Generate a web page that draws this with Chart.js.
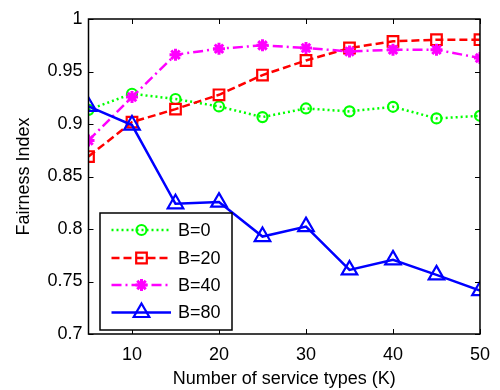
<!DOCTYPE html>
<html>
<head>
<meta charset="utf-8">
<style>
  html, body { margin: 0; padding: 0; background: #ffffff; }
  #wrap { width: 500px; height: 390px; position: relative; }
</style>
<script src="https://cdn.jsdelivr.net/npm/chart.js@4.4.1/dist/chart.umd.min.js"></script>
</head>
<body>
<div id="wrap"><canvas id="c" width="500" height="390"></canvas></div>
<script>
const kValues = [5, 10, 15, 20, 25, 30, 35, 40, 45, 50];
const seriesNames = ['B=0', 'B=20', 'B=40', 'B=80'];
const b0Values  = [0.9135, 0.9288, 0.9238, 0.9167, 0.9066, 0.9148, 0.9120, 0.9164, 0.9053, 0.9078];
const b20Values = [0.8690, 0.9018, 0.9142, 0.9278, 0.9466, 0.9605, 0.9724, 0.9787, 0.9803, 0.9803];
const b40Values = [0.8843, 0.9257, 0.9660, 0.9717, 0.9749, 0.9724, 0.9691, 0.9707, 0.9707, 0.9628];
const b80Values = [0.9167, 0.8990, 0.8240, 0.8256, 0.7928, 0.8023, 0.7610, 0.7706, 0.7563, 0.7413];
const xTickValues = [10, 20, 30, 40, 50];
const yTickValues = [0.7, 0.75, 0.8, 0.85, 0.9, 0.95, 1];
const xTitle = 'Number of service types (K)';
const yTitle = 'Fairness Index';

const FONT = "'Liberation Sans', Arial, sans-serif";

function pts(vals) { return kValues.map((k, i) => ({ x: k, y: vals[i] })); }

const styles = [
  { color: '#00ff00', dash: [2, 3], pointStyle: 'circle', radius: 5, fill: 'rgba(0,0,0,0)', pbw: 2.2 },
  { color: '#ff0000', dash: [8, 4], pointStyle: 'rect', radius: 7.5, fill: 'rgba(0,0,0,0)', pbw: 2.2 },
  { color: '#ff00ff', dash: [10, 4, 2, 4], pointStyle: 'star', radius: 6, fill: '#ff00ff', pbw: 3 },
  { color: '#0000ff', dash: [], pointStyle: 'triangle', radius: 9, fill: 'rgba(0,0,0,0)', pbw: 2.2 }
];
const allVals = [b0Values, b20Values, b40Values, b80Values];

const datasets = seriesNames.map((name, i) => ({
  label: name,
  data: pts(allVals[i]),
  borderColor: styles[i].color,
  backgroundColor: styles[i].color,
  borderWidth: 2.5,
  borderDash: styles[i].dash,
  borderCapStyle: 'butt',
  pointStyle: styles[i].pointStyle,
  pointRadius: styles[i].radius,
  pointHoverRadius: styles[i].radius,
  pointBorderColor: styles[i].color,
  pointBackgroundColor: styles[i].fill,
  pointBorderWidth: styles[i].pbw,
  tension: 0,
  order: 4 - i
}));

const boxPlugin = {
  id: 'boxPlugin',
  afterDatasetsDraw(chart) {
    const ctx = chart.ctx;
    const a = chart.chartArea;
    const xs = chart.scales.x, ys = chart.scales.y;
    ctx.save();
    ctx.strokeStyle = '#000';
    ctx.lineWidth = 1.5;
    ctx.setLineDash([]);
    ctx.strokeRect(a.left, a.top, a.right - a.left, a.bottom - a.top);
    ctx.lineWidth = 1;
    const tl = 5;
    xTickValues.forEach(v => {
      const px = Math.round(xs.getPixelForValue(v)) + 0.5;
      ctx.beginPath();
      ctx.moveTo(px, a.bottom); ctx.lineTo(px, a.bottom - tl);
      ctx.moveTo(px, a.top); ctx.lineTo(px, a.top + tl);
      ctx.stroke();
    });
    yTickValues.forEach(v => {
      const py = Math.round(ys.getPixelForValue(v)) + 0.5;
      ctx.beginPath();
      ctx.moveTo(a.left, py); ctx.lineTo(a.left + tl, py);
      ctx.moveTo(a.right, py); ctx.lineTo(a.right - tl, py);
      ctx.stroke();
    });
    ctx.restore();
  },
  afterDraw(chart) {
    const ctx = chart.ctx;
    const a = chart.chartArea;
    const bx = a.left + 11.5, by = 213, bw = 132, bh = 117;
    ctx.save();
    ctx.fillStyle = '#fff';
    ctx.fillRect(bx, by, bw, bh);
    ctx.strokeStyle = '#000';
    ctx.lineWidth = 1.5;
    ctx.setLineDash([]);
    ctx.strokeRect(bx, by, bw, bh);
    const rowY = [230, 258, 285, 312.5];
    chart.data.datasets.forEach((ds, i) => {
      const y = rowY[i];
      ctx.save();
      ctx.strokeStyle = ds.borderColor;
      ctx.lineWidth = ds.borderWidth;
      ctx.setLineDash(ds.borderDash);
      ctx.lineCap = 'butt';
      ctx.beginPath();
      ctx.moveTo(bx + 11.5, y); ctx.lineTo(bx + 71, y);
      ctx.stroke();
      ctx.restore();
      ctx.save();
      ctx.setLineDash([]);
      ctx.strokeStyle = ds.pointBorderColor;
      ctx.fillStyle = ds.pointBackgroundColor;
      ctx.lineWidth = ds.pointBorderWidth;
      if (Chart.helpers && Chart.helpers.drawPoint) {
        Chart.helpers.drawPoint(ctx, { pointStyle: ds.pointStyle, radius: ds.pointRadius, rotation: 0, borderWidth: ds.pointBorderWidth }, bx + 41.5, y);
      }
      ctx.restore();
      ctx.fillStyle = '#000';
      ctx.font = '18px ' + FONT;
      ctx.textBaseline = 'middle';
      ctx.textAlign = 'left';
      ctx.fillText(ds.label, bx + 78, y + 1);
    });
    ctx.restore();
  }
};

new Chart(document.getElementById('c'), {
  type: 'line',
  data: { datasets },
  options: {
    responsive: false,
    animation: false,
    devicePixelRatio: 1,
    layout: { padding: { left: 0, right: 11, top: 19, bottom: 0 } },
    plugins: { legend: { display: false }, tooltip: { enabled: false } },
    scales: {
      x: {
        type: 'linear',
        min: 5, max: 50,
        afterBuildTicks: s => { s.ticks = xTickValues.map(v => ({ value: v })); },
        afterFit: s => { s.height = 56; },
        grid: { display: false, drawTicks: false },
        border: { display: false },
        ticks: { color: '#000', font: { family: FONT, size: 18 }, padding: 10, maxRotation: 0 },
        title: { display: true, text: xTitle, color: '#000', font: { family: FONT, size: 18 }, padding: { top: 0, bottom: 0 } }
      },
      y: {
        type: 'linear',
        min: 0.7, max: 1,
        afterBuildTicks: s => { s.ticks = yTickValues.map(v => ({ value: v })); },
        afterFit: s => { s.width = 88.5; },
        grid: { display: false, drawTicks: false },
        border: { display: false },
        ticks: { color: '#000', font: { family: FONT, size: 18 }, padding: 6, callback: v => String(v) },
        title: { display: true, text: yTitle, color: '#000', font: { family: FONT, size: 18 }, padding: { top: 13, bottom: 0 } }
      }
    }
  },
  plugins: [boxPlugin]
});
</script>
</body>
</html>
